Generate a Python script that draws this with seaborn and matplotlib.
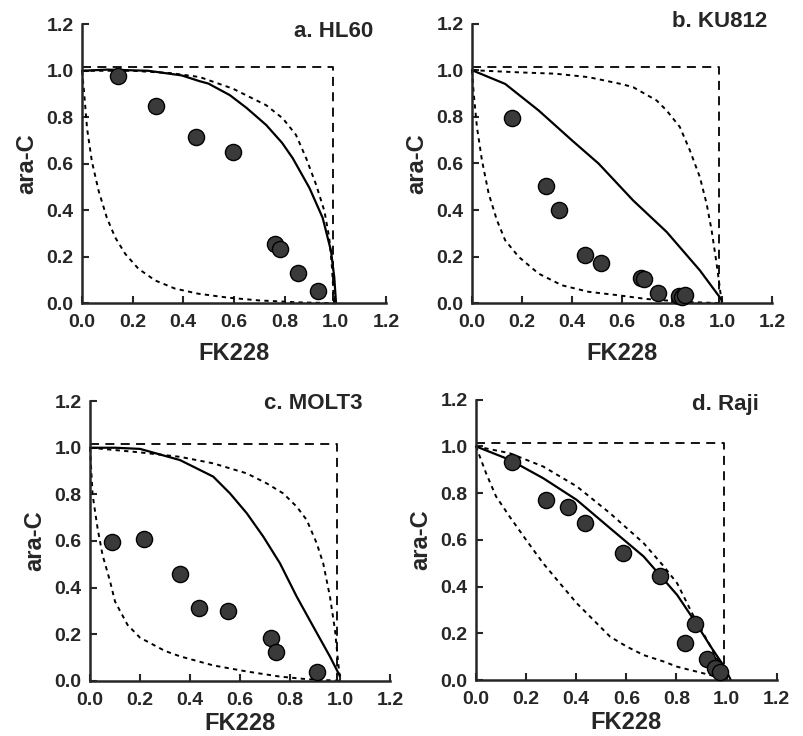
import numpy as np
import pandas as pd
import matplotlib
matplotlib.use("Agg")
import matplotlib.pyplot as plt
import seaborn as sns

sns.set_style("ticks")
plt.rcParams['font.family'] = ['Liberation Sans', 'DejaVu Sans']
plt.rcParams['font.weight'] = 'bold'

# --- a. HL60 ---
hl60_x = [0.143, 0.294, 0.449, 0.598, 0.761, 0.780, 0.852, 0.930]
hl60_y = [0.979, 0.849, 0.716, 0.651, 0.256, 0.235, 0.132, 0.054]
hl60_solid_x = [0.0, 0.1, 0.262, 0.394, 0.465, 0.499, 0.584, 0.65, 0.727, 0.79, 0.832,
                0.898, 0.95, 0.983, 0.996, 1.003]
hl60_solid_y = [1.0, 1.005, 1.0, 0.98, 0.955, 0.945, 0.895, 0.84, 0.767, 0.69, 0.624,
                0.496, 0.368, 0.226, 0.112, 0.0]
hl60_up_x = [0.0, 0.2, 0.35, 0.465, 0.596, 0.727, 0.793, 0.845, 0.885, 0.924, 0.957,
             0.976, 0.987, 0.995]
hl60_up_y = [1.0, 1.0, 0.99, 0.973, 0.923, 0.852, 0.795, 0.724, 0.624, 0.511, 0.397,
             0.283, 0.155, 0.0]
hl60_low_x = [0.0, 0.007, 0.02, 0.039, 0.066, 0.098, 0.131, 0.171, 0.223, 0.289, 0.367,
              0.459, 0.577, 0.7, 0.85, 1.0]
hl60_low_y = [1.0, 0.923, 0.752, 0.61, 0.482, 0.368, 0.283, 0.212, 0.148, 0.098, 0.063,
              0.041, 0.024, 0.012, 0.004, 0.0]

# --- b. KU812 ---
ku812_x = [0.160, 0.296, 0.347, 0.451, 0.515, 0.677, 0.690, 0.743, 0.827, 0.840, 0.853]
ku812_y = [0.795, 0.501, 0.398, 0.205, 0.172, 0.110, 0.104, 0.045, 0.031, 0.028, 0.037]
ku812_solid_x = [0.0, 0.133, 0.267, 0.4, 0.507, 0.645, 0.779, 0.912, 0.999]
ku812_solid_y = [1.0, 0.941, 0.827, 0.699, 0.599, 0.441, 0.306, 0.141, 0.015]
ku812_up_x = [0.0, 0.2, 0.333, 0.467, 0.6, 0.645, 0.739, 0.779, 0.832, 0.872, 0.912,
              0.939, 0.959, 0.979, 0.995, 1.0]
ku812_up_y = [1.0, 0.99, 0.985, 0.97, 0.94, 0.927, 0.870, 0.827, 0.756, 0.656, 0.541,
              0.427, 0.313, 0.170, 0.04, 0.0]
ku812_low_x = [0.0, 0.007, 0.02, 0.04, 0.067, 0.1, 0.133, 0.187, 0.267, 0.36, 0.467,
               0.587, 0.7, 0.85, 1.0]
ku812_low_y = [1.0, 0.9, 0.756, 0.613, 0.47, 0.356, 0.27, 0.199, 0.127, 0.077, 0.049,
               0.034, 0.018, 0.006, 0.0]

# --- c. MOLT3 ---
molt3_x = [0.087, 0.217, 0.360, 0.436, 0.553, 0.723, 0.744, 0.907]
molt3_y = [0.595, 0.608, 0.460, 0.313, 0.299, 0.182, 0.125, 0.036]
molt3_solid_x = [0.0, 0.1, 0.2, 0.3, 0.36, 0.42, 0.493, 0.56, 0.627, 0.693, 0.76, 0.827,
                 0.893, 0.96, 0.997]
molt3_solid_y = [1.0, 1.0, 0.995, 0.965, 0.947, 0.915, 0.876, 0.804, 0.719, 0.619, 0.504,
                 0.361, 0.233, 0.104, 0.026]
molt3_up_x = [0.0, 0.1, 0.2, 0.3, 0.36, 0.493, 0.627, 0.707, 0.773, 0.827, 0.867, 0.907,
              0.933, 0.96, 0.98, 0.993, 1.0]
molt3_up_y = [1.0, 0.99, 0.98, 0.968, 0.961, 0.933, 0.89, 0.847, 0.804, 0.747, 0.69, 0.59,
              0.504, 0.361, 0.219, 0.076, 0.01]
molt3_low_x = [0.0, 0.01, 0.03, 0.05, 0.08, 0.1, 0.15, 0.2, 0.3, 0.36, 0.493, 0.627,
               0.76, 0.867, 1.0]
molt3_low_y = [1.0, 0.80, 0.655, 0.54, 0.427, 0.34, 0.24, 0.185, 0.128, 0.105, 0.066, 0.04,
               0.018, 0.007, 0.0]

# --- d. Raji ---
raji_x = [0.142, 0.281, 0.368, 0.434, 0.586, 0.733, 0.873, 0.833, 0.922, 0.953, 0.973]
raji_y = [0.934, 0.771, 0.741, 0.673, 0.542, 0.446, 0.242, 0.157, 0.092, 0.052, 0.035]
raji_solid_x = [0.0, 0.134, 0.268, 0.402, 0.535, 0.669, 0.803, 0.87, 0.937, 0.991, 1.017]
raji_solid_y = [1.0, 0.943, 0.864, 0.771, 0.65, 0.529, 0.364, 0.257, 0.143, 0.057, 0.0]
raji_up_x = [0.0, 0.134, 0.268, 0.402, 0.535, 0.669, 0.75, 0.803, 0.87, 0.937, 0.991]
raji_up_y = [1.0, 0.971, 0.914, 0.829, 0.714, 0.586, 0.486, 0.414, 0.27, 0.143, 0.03]
raji_low_x = [0.0, 0.04, 0.08, 0.134, 0.2, 0.268, 0.335, 0.402, 0.469, 0.535, 0.602,
              0.669, 0.75, 0.803, 0.937, 0.991]
raji_low_y = [1.0, 0.886, 0.786, 0.70, 0.60, 0.50, 0.414, 0.329, 0.257, 0.186, 0.143,
              0.107, 0.079, 0.057, 0.021, 0.005]

# additive box
box_x = [0.0, 0.99, 0.99]
box_y = [1.015, 1.015, 0.0]

ticks = [0.0, 0.2, 0.4, 0.6, 0.8, 1.0, 1.2]
tick_labels = ['0.0', '0.2', '0.4', '0.6', '0.8', '1.0', '1.2']

panels = [
    ('a. HL60', [0.102, 0.588, 0.378, 0.379], (1.15, 1.17), 8,
     hl60_x, hl60_y, hl60_solid_x, hl60_solid_y, hl60_up_x, hl60_up_y, hl60_low_x, hl60_low_y),
    ('b. KU812', [0.587, 0.588, 0.373, 0.380], (1.18, 1.21), 8,
     ku812_x, ku812_y, ku812_solid_x, ku812_solid_y, ku812_up_x, ku812_up_y, ku812_low_x, ku812_low_y),
    ('c. MOLT3', [0.112, 0.075, 0.373, 0.380], (1.09, 1.19), 2,
     molt3_x, molt3_y, molt3_solid_x, molt3_solid_y, molt3_up_x, molt3_up_y, molt3_low_x, molt3_low_y),
    ('d. Raji', [0.592, 0.076, 0.374, 0.381], (1.13, 1.18), 2,
     raji_x, raji_y, raji_solid_x, raji_solid_y, raji_up_x, raji_up_y, raji_low_x, raji_low_y),
]

fig = plt.figure(figsize=(8.04, 7.36), dpi=100)

for (title, rect, tpos, xpad, px, py, sx, sy, ux, uy, lx, ly) in panels:
    ax = fig.add_axes(rect)
    # dashed box
    sns.lineplot(x=box_x, y=box_y, ax=ax, sort=False, estimator=None, color='black',
                 linewidth=1.3, linestyle=(0, (5, 3.5)), clip_on=False)
    # dashed envelope curves
    sns.lineplot(x=ux, y=uy, ax=ax, sort=False, estimator=None, color='black',
                 linewidth=1.4, linestyle=(0, (2.2, 2.2)), clip_on=False)
    sns.lineplot(x=lx, y=ly, ax=ax, sort=False, estimator=None, color='black',
                 linewidth=1.4, linestyle=(0, (2.2, 2.2)), clip_on=False)
    # solid isobole
    sns.lineplot(x=sx, y=sy, ax=ax, sort=False, estimator=None, color='black',
                 linewidth=1.6, clip_on=False)
    # data points
    sns.scatterplot(x=px, y=py, ax=ax, s=135, color='#3a3a3a', edgecolor='black',
                    linewidth=1.0, zorder=5, clip_on=False)

    ax.set_xlim(0, 1.2)
    ax.set_ylim(0, 1.2)
    ax.set_xticks(ticks)
    ax.set_yticks(ticks)
    ax.set_xticklabels(tick_labels)
    ax.set_yticklabels(tick_labels)
    ax.tick_params(direction='in', length=5, width=1.5, labelsize=14)
    ax.tick_params(axis='x', pad=8)
    ax.tick_params(axis='y', pad=6)
    for lab in ax.get_xticklabels() + ax.get_yticklabels():
        lab.set_fontweight('bold')
    sns.despine(ax=ax)
    for side in ['left', 'bottom']:
        ax.spines[side].set_linewidth(1.8)
    ax.set_xlabel('FK228', fontsize=17, fontweight='bold', labelpad=xpad)
    ax.set_ylabel('ara-C', fontsize=17, fontweight='bold', labelpad=6)
    ax.text(tpos[0], tpos[1], title, ha='right', va='center', fontsize=16,
            fontweight='bold')

fig.savefig('out.png', dpi=100)
